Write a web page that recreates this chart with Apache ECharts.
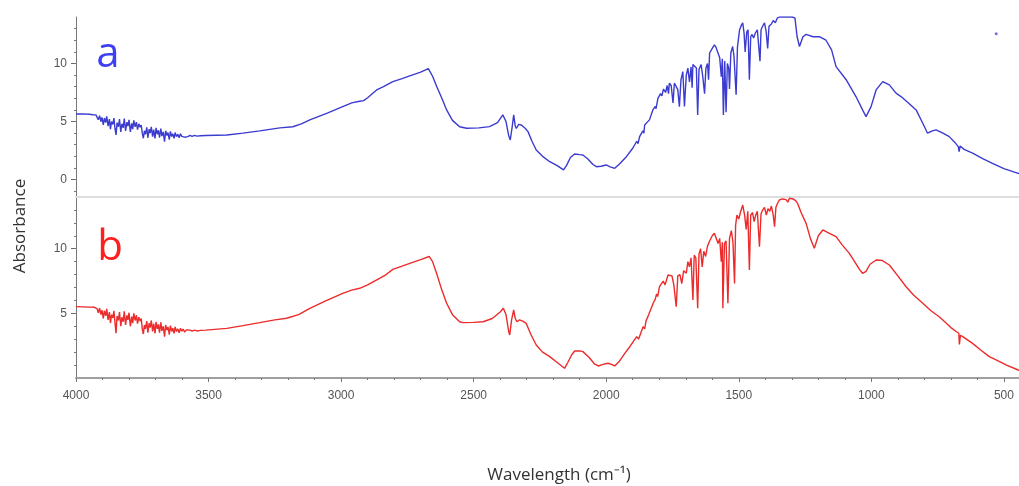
<!DOCTYPE html>
<html>
<head>
<meta charset="utf-8">
<script src="https://cdn.jsdelivr.net/npm/echarts@6/dist/echarts.min.js"></script>
<style>
html,body{margin:0;padding:0;background:#fff;}
#chart{width:1019px;height:486px;}
</style>
</head>
<body>
<div id="chart"></div>
<script>
// Wavenumber (cm-1) vs absorbance, spectrum a (top panel)
const spectrumA = [
[4000,5.65],[3975,5.66],[3950,5.62],[3935,5.58],[3925,5.57],
[3920,5.45],[3916,5.15],[3911,5.5],[3906,5.0],[3902,5.35],[3897,4.7],[3893,5.3],[3888,4.9],[3884,5.45],[3879,4.6],
[3874,5.2],[3870,4.35],[3866,5.0],[3861,4.75],[3857,5.3],[3853,4.4],[3849,3.84],[3845,4.9],[3840,4.55],[3836,5.2],
[3831,4.1],[3827,4.8],[3822,4.45],[3818,5.25],[3813,4.2],[3808,4.95],[3804,4.6],[3800,5.14],[3795,4.1],[3790,4.85],
[3786,4.35],[3782,5.1],[3777,4.55],[3772,4.95],[3768,4.3],[3763,4.8],[3758,4.5],[3754,4.7],[3750,4.0],[3746,3.56],
[3742,4.2],[3738,3.9],[3733,4.5],[3729,3.6],[3724,4.35],[3720,4.0],[3716,4.55],[3711,3.7],[3707,4.3],[3702,3.55],
[3698,4.45],[3693,3.9],[3689,4.25],[3685,3.6],[3680,4.4],[3676,3.75],[3671,4.1],[3666,3.27],[3662,4.2],[3657,3.8],
[3653,4.05],[3648,3.45],[3644,4.15],[3639,3.7],[3635,3.95],[3630,3.55],[3626,4.05],[3621,3.7],[3616,3.9],[3611,3.6],
[3606,3.95],[3601,3.72],[3596,3.88],[3590,3.65],[3584,3.82],[3578,3.7],[3570,3.8],[3562,3.72],[3553,3.8],[3544,3.74],
[3530,3.78],[3510,3.8],
[3431,3.84],[3370,4.0],[3307,4.19],[3231,4.45],[3182,4.55],[3150,4.8],[3118,5.14],[3050,5.75],[2994,6.28],[2960,6.6],
[2930,6.75],[2915,6.8],[2900,7.05],[2866,7.72],[2840,8.0],[2805,8.44],[2770,8.7],[2741,8.93],[2700,9.25],[2671,9.55],
[2655,8.9],[2639,8.0],[2620,7.0],[2602,6.0],[2580,5.1],[2553,4.55],[2527,4.42],[2480,4.45],[2440,4.56],[2410,4.9],
[2390,5.57],[2378,5.0],[2368,3.8],[2362,3.41],[2355,4.5],[2349,5.57],[2343,4.6],[2339,4.4],[2330,4.75],[2320,4.7],
[2305,4.4],[2295,4.13],[2280,3.3],[2264,2.55],[2240,2.0],[2213,1.54],[2185,1.2],[2161,0.83],[2150,1.2],[2135,1.9],
[2119,2.2],[2100,2.15],[2088,2.12],[2070,1.8],[2050,1.3],[2037,1.11],[2020,1.15],[2000,1.26],[1985,1.1],[1968,0.97],
[1950,1.35],[1924,1.97],[1900,2.7],[1885,3.3],[1880,3.1],[1874,3.7],[1862,4.2],[1858,4.0],[1855,4.7],[1837,5.14],
[1824,6.0],[1815,6.3],[1812,6.1],[1805,7.0],[1795,7.4],[1790,7.2],[1784,7.8],
[1776,7.5],[1770,8.1],[1765,7.4],[1762,8.3],[1755,8.1],[1748,6.6],[1743,8.3],[1736,8.4],[1730,7.75],[1724,6.28],[1718,8.6],[1711,9.3],
[1705,6.3],[1698,9.0],[1692,9.6],[1686,8.4],[1680,9.7],[1676,7.9],[1673,9.9],[1667,10.0],[1660,9.6],[1655,5.57],[1650,9.5],
[1642,9.9],[1636,8.9],[1629,7.4],[1624,9.6],[1618,10.0],[1614,8.6],[1610,10.9],[1600,11.3],[1592,11.6],[1586,11.4],[1580,11.0],
[1572,10.5],[1566,8.87],[1562,10.4],[1558,5.57],[1553,10.2],[1548,5.8],[1543,10.0],[1538,9.6],[1535,7.8],[1530,10.9],
[1523,11.46],[1518,10.6],[1510,7.3],[1505,11.4],[1497,12.9],[1490,13.3],[1485,13.5],[1480,12.6],[1476,11.0],[1470,12.7],
[1465,12.9],[1460,8.6],[1455,12.3],[1450,12.5],[1444,12.2],[1438,12.6],[1430,12.9],[1420,10.2],[1416,12.9],[1410,13.2],
[1403,13.5],[1397,12.8],[1391,11.3],[1386,13.2],[1377,13.4],[1370,13.7],[1362,13.5],[1355,13.9],[1347,14.0],[1321,14.0],
[1298,14.0],[1288,13.9],[1280,12.3],[1271,11.46],[1258,12.3],[1246,12.5],[1220,12.3],[1196,12.3],[1171,12.0],[1150,11.17],
[1133,9.73],[1095,8.6],[1058,7.15],[1033,6.0],[1020,5.42],[1001,6.28],[982,7.72],[957,8.44],[932,8.15],[907,7.44],
[888,7.15],[860,6.6],[831,6.0],[806,4.85],[788,3.99],[770,4.2],[756,4.28],[730,4.0],[706,3.7],[685,3.2],
[672,2.84],[669,2.4],[665,2.9],[650,2.6],[618,2.27],[580,1.8],[543,1.4],[500,0.95],[446,0.54],[440,0.52]
];
// stray point visible in the top panel
const strayPointA = [[529,12.55]];

// spectrum b (bottom panel)
const spectrumB = [
[4000,5.52],[3975,5.5],[3950,5.48],[3930,5.47],
[3920,5.35],[3916,5.05],[3911,5.4],[3906,4.9],[3902,5.25],[3897,4.6],[3893,5.2],[3888,4.8],[3884,5.35],[3879,4.5],
[3874,5.1],[3870,4.25],[3866,4.9],[3861,4.65],[3857,5.2],[3853,4.3],[3849,3.46],[3845,4.8],[3840,4.45],[3836,5.1],
[3831,4.0],[3827,4.7],[3822,4.35],[3818,5.15],[3813,4.1],[3808,4.85],[3804,4.5],[3800,5.05],[3795,4.0],[3790,4.75],
[3786,4.25],[3782,5.0],[3777,4.45],[3772,4.85],[3768,4.2],[3763,4.7],[3758,4.4],[3754,4.6],[3750,3.8],[3746,3.4],
[3742,4.1],[3738,3.8],[3733,4.4],[3729,3.5],[3724,4.25],[3720,3.9],[3716,4.45],[3711,3.6],[3707,4.2],[3702,3.45],
[3698,4.35],[3693,3.8],[3689,4.15],[3685,3.5],[3680,4.3],[3676,3.65],[3671,4.0],[3666,3.2],[3662,4.1],[3657,3.7],
[3653,3.95],[3648,3.35],[3644,4.05],[3639,3.6],[3635,3.85],[3630,3.45],[3626,3.95],[3621,3.6],[3616,3.8],[3611,3.5],
[3606,3.85],[3601,3.62],[3596,3.78],[3590,3.55],[3584,3.72],[3578,3.6],[3570,3.7],[3562,3.62],[3553,3.7],[3544,3.64],
[3530,3.68],[3510,3.7],
[3431,3.84],[3370,4.05],[3307,4.28],[3250,4.5],[3206,4.62],[3160,4.9],[3118,5.39],[3060,5.95],[2994,6.55],[2960,6.8],
[2930,6.94],[2900,7.2],[2855,7.71],[2830,8.0],[2805,8.4],[2770,8.65],[2741,8.87],[2700,9.15],[2668,9.4],[2655,9.0],
[2640,8.1],[2620,6.8],[2602,5.78],[2580,4.9],[2553,4.35],[2540,4.28],[2500,4.3],[2464,4.35],[2430,4.6],[2400,5.1],
[2388,5.39],[2378,4.9],[2368,3.6],[2364,3.33],[2357,4.5],[2349,5.26],[2343,4.6],[2337,4.35],[2327,4.49],[2315,4.4],
[2302,4.23],[2285,3.4],[2264,2.55],[2240,2.0],[2213,1.65],[2185,1.2],[2157,0.75],[2145,1.2],[2130,1.8],[2119,2.09],
[2100,2.1],[2088,2.04],[2065,1.6],[2045,1.1],[2030,0.93],[2012,1.05],[1993,1.14],[1980,1.05],[1968,0.93],[1950,1.3],
[1930,1.9],[1911,2.42],[1885,3.2],[1878,3.0],[1861,3.97],[1855,3.8],[1850,4.4],[1840,4.9],[1823,5.78],[1815,6.1],[1810,6.5],
[1806,6.3],[1799,7.06],[1785,7.5],[1778,7.2],
[1767,7.97],[1760,8.1],[1752,7.9],[1745,7.2],[1736,5.51],[1730,7.9],[1722,8.0],[1715,7.3],[1708,8.3],[1698,8.1],
[1692,9.0],[1686,8.6],[1680,9.3],[1673,6.03],[1668,9.5],[1662,9.3],[1655,5.39],[1650,9.6],[1644,10.0],[1638,8.6],
[1632,9.8],[1625,9.4],[1618,10.2],[1610,10.6],[1600,11.0],[1592,11.2],[1585,11.2],[1578,10.4],[1572,10.8],[1566,9.0],
[1562,10.5],[1560,5.39],[1554,10.4],[1548,10.6],[1541,5.78],[1535,10.8],[1528,11.4],[1522,10.5],[1516,7.32],[1512,11.8],
[1507,12.6],[1500,12.3],[1494,12.8],[1485,13.38],[1478,12.6],[1472,11.5],[1466,12.9],[1460,8.35],[1455,12.6],[1448,12.8],
[1442,12.1],[1436,12.6],[1430,12.9],[1422,10.15],[1416,12.7],[1410,12.99],[1403,13.2],[1396,12.6],[1390,13.1],[1383,12.9],
[1377,13.3],[1370,12.6],[1365,11.7],[1360,13.2],[1354,13.5],[1347,13.77],[1335,13.85],[1322,13.8],[1315,13.6],[1309,13.9],
[1295,13.85],[1285,13.7],[1278,13.5],[1265,12.8],[1246,11.96],[1230,10.8],[1215,10.03],[1200,11.0],[1183,11.45],[1160,11.2],
[1133,10.93],[1110,10.3],[1083,9.64],[1060,8.9],[1045,8.4],[1033,8.1],[1020,8.25],[1005,8.8],[982,9.13],[960,9.1],
[932,8.74],[900,7.9],[869,7.06],[840,6.4],[806,5.78],[775,5.2],[744,4.74],[720,4.3],[700,3.9],[680,3.6],
[670,3.46],[668,2.6],[664,3.3],[655,3.2],[618,2.68],[590,2.2],[555,1.65],[520,1.3],[490,1.0],[446,0.62],[440,0.58]
];

const xMajorTicks = [500,1000,1500,2000,2500,3000,3500,4000];
const xMinorTicks = [];
for (let v = 500; v <= 4000; v += 100) xMinorTicks.push(v);
const yTopLabels = [0,5,10];
const yTopMinor = [-1,0,1,2,3,4,5,6,7,8,9,10,11,12,13];
const yBottomLabels = [5,10];
const yBottomMinor = [1,2,3,4,5,6,7,8,9,10,11,12,13];

const tickFont = "'Liberation Sans Narrow','Liberation Sans',Arial,sans-serif";
const X_MIN = 443, X_MAX = 4000;
const plain = function(v){ return String(v); };

const chart = echarts.init(document.getElementById('chart'), null, {renderer:'canvas'});

function xAx(grid, extra){
  return Object.assign({type:'value', gridIndex:grid, position:'bottom', min:X_MIN, max:X_MAX, inverse:true,
    splitLine:{show:false}}, extra);
}
function yAx(grid, min, max, extra){
  return Object.assign({type:'value', gridIndex:grid, position:'left', min:min, max:max, splitLine:{show:false}}, extra);
}

chart.setOption({
  animation:false,
  backgroundColor:'#ffffff',
  grid:[
    {left:76, right:0, top:17, height:180},
    {left:76, right:0, top:197, height:181}
  ],
  xAxis:[
    xAx(0,{axisLine:{show:true,onZero:false,lineStyle:{color:'#dedede',width:2}},axisTick:{show:false},axisLabel:{show:false}}),
    xAx(1,{axisLine:{show:true,onZero:false,lineStyle:{color:'#a0a0a0',width:2}},
      axisTick:{show:true,customValues:xMajorTicks,length:4,lineStyle:{color:'#777'}},
      axisLabel:{show:true,customValues:xMajorTicks,formatter:plain,color:'#555',fontSize:12,fontFamily:tickFont,margin:12}}),
    xAx(1,{axisLine:{show:false,onZero:false},axisTick:{show:true,customValues:xMinorTicks,length:2,lineStyle:{color:'#777'}},axisLabel:{show:false}})
  ],
  yAxis:[
    yAx(0,-1.5,14,{axisLine:{show:true,onZero:false,lineStyle:{color:'#777',width:1}},
      axisTick:{show:true,customValues:yTopLabels,length:5,lineStyle:{color:'#666'}},
      axisLabel:{show:true,customValues:yTopLabels,formatter:plain,color:'#555',fontSize:12,fontFamily:tickFont,margin:9}}),
    yAx(0,-1.5,14,{axisLine:{show:false,onZero:false},axisTick:{show:true,customValues:yTopMinor,length:2,lineStyle:{color:'#777'}},axisLabel:{show:false}}),
    yAx(1,0,14,{axisLine:{show:true,onZero:false,lineStyle:{color:'#777',width:1}},
      axisTick:{show:true,customValues:yBottomLabels,length:5,lineStyle:{color:'#666'}},
      axisLabel:{show:true,customValues:yBottomLabels,formatter:plain,color:'#555',fontSize:12,fontFamily:tickFont,margin:9}}),
    yAx(1,0,14,{axisLine:{show:false,onZero:false},axisTick:{show:true,customValues:yBottomMinor,length:2,lineStyle:{color:'#777'}},axisLabel:{show:false}})
  ],
  series:[
    {name:'a', type:'line', xAxisIndex:0, yAxisIndex:0, data:spectrumA, showSymbol:false, symbol:'none',
      lineStyle:{color:'#3b3bd0', width:1.4}, clip:true},
    {name:'a-dot', type:'scatter', xAxisIndex:0, yAxisIndex:0, data:strayPointA, symbolSize:3,
      itemStyle:{color:'#4b4be0'}},
    {name:'b', type:'line', xAxisIndex:1, yAxisIndex:2, data:spectrumB, showSymbol:false, symbol:'none',
      lineStyle:{color:'#ec2b2b', width:1.4}, clip:true}
  ],
  graphic:[
    {type:'text', x:108, y:55, style:{text:'a', fill:'#3f3ff2', font:"42px 'Open Sans', sans-serif", textAlign:'center', textVerticalAlign:'middle'}},
    {type:'text', x:110, y:248, style:{text:'b', fill:'#ff1f1f', font:"42px 'Open Sans', sans-serif", textAlign:'center', textVerticalAlign:'middle'}},
    {type:'text', x:20, y:226, rotation:Math.PI/2, style:{text:'Absorbance', fill:'#333', font:"17px 'Open Sans', sans-serif", textAlign:'center', textVerticalAlign:'middle'}},
    {type:'text', x:559, y:475, style:{text:'Wavelength (cm\u207B\u00B9)', fill:'#333', font:"17px 'Open Sans', sans-serif", textAlign:'center', textVerticalAlign:'middle'}}
  ]
});
</script>
</body>
</html>
